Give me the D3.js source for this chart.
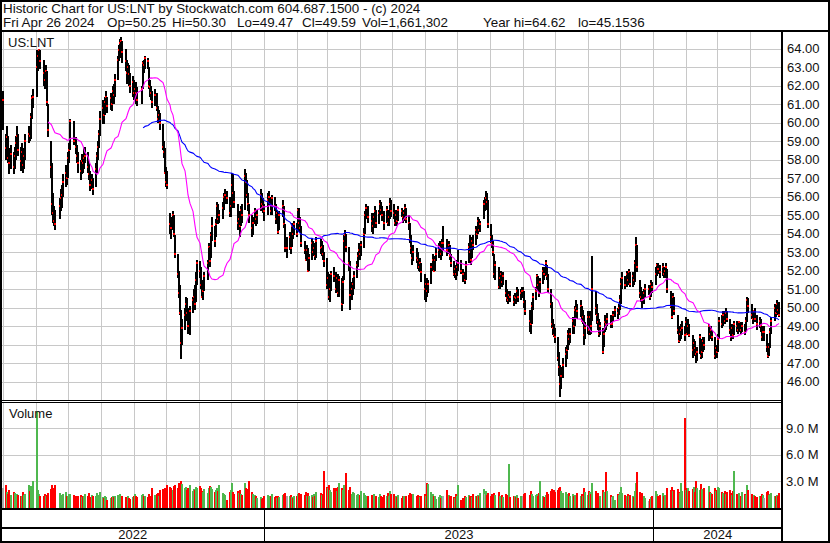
<!DOCTYPE html>
<html><head><meta charset="utf-8">
<script src="https://cdn.jsdelivr.net/npm/d3@7"></script>
<style>
body{margin:0;background:#fff}
svg{display:block}
text{font-family:"Liberation Sans",Arial,sans-serif;fill:#111}
</style>
</head><body>
<svg id="c" width="830" height="543"></svg>
<script>
// ---- data (one line per month, Apr 29 2022 .. Apr 26 2024) ----
const closeP = [
61.2,
58.6,59.2,58.1,57.8,58.3,57.6,58.2,58.9,59.3,58.5,57.9,58.4,57.7,58.2,59.0,59.4,59.3,60.3,61.3,61.4,63.0,
63.6,63.9,63.3,62.7,62.3,62.8,61.1,59.6,57.6,55.6,55.1,54.7,54.5,55.5,55.9,56.1,56.8,57.3,57.0,58.1,58.5,
60.1,59.0,58.7,58.2,57.8,57.4,57.9,57.8,58.1,58.2,57.6,57.2,56.6,56.9,56.4,57.5,58.2,58.7,59.4,60.2,
60.8,60.4,61.1,61.4,60.9,61.3,61.0,61.7,61.5,62.3,63.4,63.9,64.3,64.4,63.8,63.3,62.7,63.0,62.6,62.0,62.2,61.6,61.8,
61.6,61.2,61.8,63.2,63.1,63.5,63.3,62.0,61.9,61.6,61.1,61.5,60.8,60.2,60.4,60.0,58.7,58.4,57.3,56.8,56.6,
54.5,54.3,55.0,54.0,52.9,51.8,50.8,49.7,48.1,48.9,49.6,50.2,49.7,49.0,49.8,50.4,50.6,50.2,51.5,52.4,52.0,
51.2,50.6,50.9,51.7,52.4,53.3,52.5,53.9,54.4,53.6,54.5,55.5,54.8,55.0,55.4,56.0,56.1,55.9,55.1,55.5,56.6,
56.2,55.7,54.6,54.8,54.4,55.3,55.0,57.1,56.8,56.1,55.6,55.0,54.3,54.6,55.2,54.8,55.0,56.1,55.6,55.5,55.2,
55.8,56.0,55.2,55.9,55.5,54.8,55.1,54.1,55.0,55.5,54.5,53.2,53.2,53.8,53.2,54.4,54.0,54.5,54.0,55.3,
54.6,54.3,53.5,53.1,52.6,53.1,52.0,52.7,53.5,53.0,53.2,52.8,53.6,53.2,53.3,52.9,52.5,51.2,51.6,
50.6,51.0,51.8,51.7,51.0,51.6,50.8,51.5,50.2,51.4,53.6,53.9,53.3,52.4,50.7,51.0,51.3,51.7,52.3,52.8,53.1,52.9,53.4,
54.0,55.0,55.4,54.9,54.7,54.4,54.9,55.2,54.6,55.1,55.6,55.3,55.0,54.6,55.3,54.6,54.9,55.6,55.2,
55.1,54.6,55.0,54.7,55.3,55.2,54.9,55.1,55.4,54.8,54.6,53.7,53.2,52.7,53.0,52.7,52.6,52.2,52.4,51.9,51.0,51.3,
50.9,51.3,52.2,52.6,52.0,52.6,52.9,53.1,53.3,52.9,53.5,53.5,53.1,53.4,52.8,52.4,51.8,52.1,51.8,52.2,52.4,
52.0,51.8,51.5,52.3,53.3,53.0,52.6,53.6,53.4,54.2,54.0,54.7,54.2,54.5,55.6,55.6,55.9,55.7,54.5,53.8,
53.5,53.0,51.8,52.3,51.1,51.6,51.8,51.4,51.7,50.8,50.5,50.4,50.7,50.6,50.3,50.6,50.5,50.9,50.6,50.8,50.9,50.9,50.3,
49.8,49.3,49.1,50.1,50.6,50.9,51.7,51.2,50.8,51.4,52.0,51.8,52.4,51.7,51.0,50.2,49.1,48.9,48.5,48.4,
47.3,46.8,45.9,46.3,46.9,47.5,47.7,48.6,48.3,48.6,49.3,49.0,49.9,50.0,49.8,50.1,49.3,49.5,48.5,48.9,49.5,48.8,
49.5,49.0,51.0,50.0,49.6,49.2,48.6,49.0,47.6,48.6,49.2,49.1,49.4,49.1,49.1,49.6,49.9,49.7,50.0,50.4,51.3,
51.6,51.2,51.8,51.5,51.9,51.3,51.7,51.5,52.4,53.4,52.2,50.8,50.6,50.4,50.8,51.0,51.0,50.6,51.3,51.1,
51.8,52.3,52.1,51.9,52.2,51.8,52.0,52.2,51.0,50.1,49.5,50.6,49.8,48.8,48.2,48.6,48.8,48.9,48.5,49.2,48.6,
49.0,48.5,47.7,48.1,47.8,47.5,47.6,48.4,47.4,47.6,48.2,48.0,49.0,48.6,48.8,48.4,47.4,47.8,47.6,48.3,
49.3,49.1,49.6,49.3,49.7,49.4,48.8,48.4,48.9,48.5,49.1,49.0,48.8,49.2,48.8,49.0,48.7,49.3,50.4,50.1,
49.6,49.4,49.8,49.4,49.1,49.3,49.0,48.4,48.7,48.7,47.9,47.4,47.9,48.7,49.3,50.0,49.7,50.2,49.9,49.59
];
const highP = [
61.7,
59.4,59.8,59.3,58.6,58.8,58.4,58.7,59.3,59.8,59.4,58.7,58.9,58.6,58.6,59.4,59.8,59.8,60.5,61.5,61.8,63.9,
63.9,64.0,63.9,63.4,62.9,63.1,62.8,61.0,59.0,57.8,56.2,55.5,55.3,55.9,56.4,56.6,57.2,57.7,57.6,58.4,58.9,
60.2,60.1,59.2,58.8,58.4,58.0,58.3,58.3,58.6,58.7,58.4,57.8,57.4,57.2,57.0,57.8,58.4,59.0,59.6,60.6,
61.2,61.0,61.4,61.7,61.4,61.6,61.5,62.0,62.1,62.6,63.6,64.2,64.5,64.62,64.4,64.0,63.4,63.2,63.1,62.7,62.5,62.3,62.2,
62.2,61.9,62.0,63.3,63.4,63.6,63.5,63.0,62.3,62.0,61.7,61.8,61.6,60.9,60.7,60.5,59.9,59.0,58.6,57.6,57.4,
55.1,54.9,55.2,55.0,53.9,52.9,52.0,51.2,49.9,49.4,50.0,50.6,50.5,50.0,50.1,50.6,51.0,51.2,51.9,52.6,52.5,
52.2,51.5,51.3,51.9,52.6,53.5,53.3,54.1,54.9,54.4,54.8,55.7,55.6,55.3,55.7,56.2,56.4,56.3,56.0,55.8,57.3,
57.2,56.3,55.6,55.2,55.0,55.5,55.6,57.5,57.3,56.9,56.2,55.6,55.0,54.9,55.4,55.3,55.3,56.4,56.2,55.9,55.6,
56.2,56.3,56.0,56.1,56.0,55.6,55.3,55.2,55.2,55.8,55.5,54.5,53.8,54.1,53.9,54.6,54.5,54.7,54.6,55.4,
55.4,54.9,54.4,53.6,53.4,53.4,53.2,52.9,53.7,53.6,53.5,53.4,53.8,53.7,53.6,53.4,53.0,52.7,51.9,
51.8,51.3,52.0,52.2,51.9,51.8,51.8,51.7,51.6,51.7,53.9,54.2,54.0,53.3,52.5,51.4,51.6,52.0,52.5,53.0,53.5,53.4,53.6,
54.3,55.2,55.6,55.5,55.1,54.9,55.1,55.5,55.3,55.3,55.8,55.7,55.5,55.2,55.5,55.3,55.1,55.9,55.8,
55.6,55.2,55.3,55.1,55.5,55.4,55.3,55.3,55.6,55.4,55.0,54.6,53.9,53.3,53.4,53.2,53.0,52.7,52.7,52.4,51.8,51.6,
51.6,51.5,52.4,52.9,52.7,52.8,53.2,53.5,53.6,53.4,53.7,54.4,53.7,53.6,53.4,52.9,52.5,52.3,52.3,52.6,53.1,
52.6,52.1,51.9,52.5,53.5,53.9,53.2,53.8,53.9,54.4,54.4,54.9,54.8,54.7,55.8,56.0,56.3,56.2,55.8,54.5,
53.9,53.6,52.9,52.5,52.2,51.9,52.0,51.9,51.9,51.5,51.0,50.9,50.9,50.9,50.7,50.8,50.8,51.1,51.0,51.0,51.1,51.1,50.9,
50.4,49.9,49.6,50.3,50.8,51.1,51.8,51.7,51.3,51.6,52.2,52.2,52.6,52.3,51.8,51.0,50.3,49.4,49.1,48.9,
48.4,47.6,46.9,46.8,47.3,47.9,48.0,48.8,48.9,48.9,49.5,49.5,50.1,50.4,50.2,50.4,50.1,49.9,49.6,49.2,49.8,49.6,
49.8,49.6,52.8,50.9,50.2,49.7,49.4,49.2,48.9,48.9,49.6,49.5,49.7,49.6,49.4,49.8,50.1,50.0,50.2,50.7,51.6,
51.9,51.7,52.0,51.9,52.1,51.9,51.9,51.9,52.6,53.8,53.4,51.5,51.1,50.9,51.0,51.3,51.2,51.1,51.5,51.4,
52.2,52.4,52.4,52.3,52.4,52.2,52.2,52.4,52.1,50.9,50.3,50.8,50.6,49.6,49.0,48.9,49.1,49.3,49.0,49.5,49.3,
49.4,49.1,48.5,48.3,48.2,47.9,47.9,48.6,48.3,47.9,48.4,48.4,49.1,49.0,49.0,48.8,48.4,48.0,48.0,48.6,
49.5,49.6,49.8,49.8,50.0,49.8,49.4,48.9,49.1,49.1,49.3,49.3,49.1,49.3,49.2,49.2,49.1,49.5,50.6,50.5,
50.2,49.8,49.9,50.0,49.6,49.5,49.4,49.0,48.9,49.0,48.6,48.0,48.1,48.9,49.5,50.2,50.2,50.4,50.3,50.30
];
const lowP = [
59.6,
58.0,58.3,57.8,57.2,57.5,57.2,57.5,58.0,58.6,58.2,57.4,57.7,57.3,57.5,58.0,58.9,59.0,59.1,60.2,60.8,61.4,
62.8,63.0,62.9,62.0,61.8,62.0,60.9,59.2,57.0,55.0,54.6,54.4,54.2,54.8,55.2,55.4,56.0,56.5,56.6,57.0,57.8,
58.5,58.8,58.3,57.8,57.3,56.9,57.2,57.3,57.5,57.8,57.3,56.9,56.3,56.4,56.1,56.5,57.3,58.0,58.6,59.3,
59.9,59.9,60.4,60.7,60.5,60.7,60.6,61.0,61.0,61.4,62.3,63.3,63.5,63.7,63.2,62.8,62.1,62.3,62.0,61.6,61.4,61.2,61.2,
61.0,60.9,61.0,61.8,62.7,62.9,62.9,61.8,61.4,61.2,60.8,60.9,60.6,60.0,60.0,59.6,58.5,58.1,57.2,56.5,56.4,
54.0,53.7,54.2,53.8,52.7,51.6,50.5,49.6,47.25,48.0,48.8,49.3,49.3,48.6,48.5,49.7,49.9,49.9,50.3,51.2,51.6,
51.0,50.5,50.4,50.9,51.5,52.3,52.2,52.7,53.6,53.3,53.8,54.5,54.5,54.6,54.8,55.3,55.6,55.6,54.9,54.9,55.4,
55.8,55.4,54.2,54.2,53.8,54.4,54.6,55.3,56.3,55.9,55.2,54.6,53.8,53.9,54.5,54.4,54.5,55.2,55.3,55.1,54.7,
55.0,55.5,55.0,55.0,55.2,54.5,54.5,54.0,54.2,54.9,54.3,53.0,52.7,53.1,52.9,53.3,53.7,53.9,53.8,54.1,
54.1,54.1,53.3,52.9,52.5,52.5,51.9,52.0,52.6,52.8,52.8,52.6,52.7,52.9,52.8,52.6,52.2,51.0,51.0,
50.4,50.3,50.9,51.4,50.8,50.8,50.6,50.6,49.8,50.2,51.5,53.2,53.0,52.0,49.9,50.4,50.7,51.0,51.6,52.2,52.6,52.6,52.8,
53.2,54.0,54.8,54.6,54.1,54.0,54.3,54.8,54.3,54.5,55.0,55.0,54.7,54.2,54.6,54.4,54.4,54.8,54.9,
54.8,54.4,54.5,54.4,54.7,54.9,54.6,54.7,55.0,54.6,54.2,53.5,52.9,52.3,52.5,52.4,52.1,52.0,51.9,51.4,50.4,50.3,
50.6,50.8,51.3,52.0,51.9,52.0,52.5,52.7,52.9,52.6,52.8,53.1,52.8,52.9,52.6,52.2,51.7,51.6,51.5,51.7,52.0,
51.8,51.4,51.3,51.5,52.4,52.8,52.3,52.7,53.1,53.4,53.7,54.0,54.1,54.1,54.8,55.2,55.3,55.4,54.3,53.5,
53.2,52.8,51.6,51.5,51.0,51.0,51.3,51.1,51.2,50.6,50.3,50.2,50.3,50.3,50.1,50.2,50.2,50.4,50.3,50.4,50.5,50.5,50.0,
49.6,48.7,48.6,49.1,49.9,50.4,50.9,51.0,50.6,50.8,51.3,51.5,51.7,51.5,50.8,50.0,48.9,48.5,48.4,48.1,
47.1,46.3,45.1536,45.6,46.2,46.8,47.2,47.7,48.0,48.1,48.6,48.6,49.0,49.6,49.4,49.5,49.2,49.1,48.0,48.3,48.6,48.5,
48.5,48.6,49.3,49.6,49.1,48.8,48.4,48.5,47.5,47.9,48.7,48.8,49.0,48.9,48.9,49.2,49.5,49.4,49.6,49.9,50.2,
51.0,51.0,51.1,51.2,51.4,51.1,51.1,51.2,51.4,52.2,51.9,50.5,50.3,50.0,50.2,50.6,50.7,50.4,50.6,50.8,
51.2,51.7,51.8,51.6,51.7,51.6,51.6,51.8,50.8,50.0,49.4,49.6,49.6,48.6,48.1,48.2,48.3,48.5,48.2,48.6,48.5,
48.5,48.4,47.3,47.4,47.5,47.0,47.1,47.5,47.2,47.3,47.6,47.7,48.2,48.3,48.4,48.2,47.2,47.3,47.3,47.6,
48.3,48.9,49.0,49.1,49.2,49.2,48.6,48.2,48.3,48.3,48.5,48.7,48.6,48.7,48.6,48.7,48.5,48.7,49.2,49.7,
49.4,49.1,49.2,49.2,48.8,48.9,48.7,48.2,48.3,48.2,47.6,47.3,47.4,47.8,48.6,49.3,49.5,49.7,49.6,49.47
];
const volM = [ // millions of shares
2.2,
2.6,1.8,1.6,2.0,1.5,1.8,1.7,1.4,1.6,1.5,1.3,1.4,1.8,1.5,1.6,2.6,1.9,2.5,2.0,3.0,10.9,
2.0,1.6,1.4,1.3,1.6,1.4,1.5,1.7,2.1,2.6,2.3,1.9,2.6,1.7,1.5,1.4,1.6,1.8,1.3,1.4,1.6,
1.6,1.5,1.3,1.2,1.3,1.5,1.2,1.4,1.3,1.6,1.4,1.7,1.2,1.5,1.3,1.4,1.7,1.3,1.5,1.8,
1.2,1.1,1.3,1.2,0.9,1.1,1.2,1.4,1.2,1.3,1.5,1.4,1.6,1.3,1.4,1.2,1.1,1.3,1.1,1.0,1.2,1.3,1.6,
1.4,1.2,1.5,1.6,1.3,1.4,1.2,1.6,1.4,1.3,2.2,1.5,1.6,1.7,1.4,2.0,2.1,1.9,2.3,2.0,2.6,
2.4,2.3,2.0,2.5,2.6,2.2,2.8,2.5,3.0,2.7,2.2,2.4,2.0,2.3,2.6,1.9,2.1,2.0,2.4,2.2,2.5,
2.2,1.9,1.8,2.1,1.7,2.2,2.5,2.4,2.1,1.8,2.0,2.3,1.9,2.6,1.7,1.6,1.5,0.9,1.8,2.0,2.8,
1.8,1.6,1.9,1.7,2.0,1.6,1.5,2.8,2.2,1.9,2.1,3.0,1.8,1.6,1.5,1.3,1.1,1.2,1.0,1.1,1.3,
1.5,1.3,1.4,1.6,1.2,1.3,1.1,1.4,1.2,1.5,1.6,1.7,1.4,1.3,1.5,1.2,1.1,1.4,1.3,1.6,
1.7,1.4,1.6,1.5,1.8,1.3,1.7,1.4,1.5,1.2,1.6,1.4,1.8,1.7,1.5,1.6,4.2,2.4,2.2,
2.6,2.0,1.8,2.2,2.3,1.9,2.4,2.8,2.2,2.0,2.6,2.1,3.9,2.0,2.4,1.6,1.8,1.7,1.5,1.6,1.4,1.5,1.9,
1.7,1.5,1.4,1.3,1.5,1.2,1.6,1.3,1.4,1.2,1.6,1.3,1.2,1.5,1.4,1.7,1.3,1.9,1.6,
1.6,1.3,1.4,1.2,1.5,1.1,1.3,1.4,1.2,1.3,1.5,1.7,1.6,1.4,1.6,1.3,1.5,1.4,1.2,1.3,1.6,1.4,
2.8,2.7,1.8,1.6,1.3,1.4,1.0,1.2,1.5,1.1,1.4,1.3,2.0,1.5,1.3,1.4,1.2,1.1,1.6,1.3,2.6,
0.9,1.1,1.3,1.2,1.5,1.3,1.4,1.2,1.6,1.4,1.3,1.5,1.4,1.7,2.1,1.6,1.9,1.5,1.7,1.4,
1.6,1.4,1.7,1.5,1.8,1.4,1.3,1.5,1.2,1.6,1.5,1.4,5.0,1.2,1.4,1.3,1.2,1.5,1.1,1.3,1.2,1.3,1.6,
1.7,1.5,1.9,1.6,1.4,1.5,1.6,1.3,1.7,3.0,1.4,1.2,1.5,1.8,1.6,1.9,2.1,1.7,2.0,1.8,
2.0,2.2,2.4,1.9,1.7,1.8,1.6,1.5,1.7,1.4,1.6,1.3,1.5,1.4,1.7,1.3,1.6,1.4,2.2,1.8,1.5,1.9,
1.8,1.6,2.8,1.9,1.5,1.7,1.4,1.3,2.0,1.8,1.6,4.1,1.9,1.5,1.2,1.4,0.9,1.6,1.5,1.8,2.4,
1.7,1.5,1.4,1.6,1.3,1.5,1.4,1.2,1.9,2.8,4.1,1.8,1.6,1.7,1.4,1.1,0.8,1.0,1.2,1.3,
1.9,1.6,1.4,1.5,1.7,1.3,1.5,1.4,2.2,2.0,2.4,1.9,2.0,2.1,1.8,1.7,2.8,1.9,10.2,2.0,2.2,
2.2,1.9,2.1,2.4,1.8,3.0,2.3,2.0,2.7,2.1,1.9,2.2,2.5,1.8,1.7,1.6,2.3,1.9,2.0,2.4,
2.3,1.8,1.7,1.9,1.6,1.8,2.0,1.7,1.5,1.9,4.2,1.6,1.5,1.7,1.4,1.8,1.6,1.5,2.6,2.0,
1.6,1.4,1.5,1.3,1.2,1.4,1.3,1.6,1.5,1.1,1.8,1.9,1.5,1.6,1.7,1.4,1.3,1.5,1.4,1.661
];
const priceTicks = [46,47,48,49,50,51,52,53,54,55,56,57,58,59,60,61,62,63,64];
const volTicks = [3,6,9];
const yearLabels = ["2022","2023","2024"];
const holidays = ["2022-05-30","2022-06-20","2022-07-04","2022-09-05","2022-11-24","2022-12-26",
 "2023-01-02","2023-01-16","2023-02-20","2023-04-07","2023-05-29","2023-06-19","2023-07-04","2023-09-04",
 "2023-11-23","2023-12-25","2024-01-01","2024-01-15","2024-02-19","2024-03-29"];
const header1 = "Historic Chart for US:LNT by Stockwatch.com 604.687.1500 - (c) 2024";
const header2 = [["Fri Apr 26 2024",3],["Op=50.25",107],["Hi=50.30",172],["Lo=49.47",237],["Cl=49.59",302],["Vol=1,661,302",362],["Year hi=64.62",483],["lo=45.1536",578]];

// ---- trading dates, counted back from the last session ----
const fmt = d3.timeFormat("%Y-%m-%d");
const hol = new Set(holidays);
const N = closeP.length;
const dates = [];
{ let d = new Date(2024,3,26,12);
  while (dates.length < N) {
    const wd = d.getDay();
    if (wd !== 0 && wd !== 6 && !hol.has(fmt(d))) dates.unshift(new Date(d));
    d = d3.timeDay.offset(d, -1);
  } }
const rows = dates.map((d,i)=>({d, c:closeP[i], h:highP[i], l:lowP[i], v:volM[i], pc: i? closeP[i-1] : closeP[i]}));

// ---- scales ----
const svg = d3.select("#c");
const x = d3.scaleTime().domain([new Date(2022,3,29,12), new Date(2024,3,26,12)]).range([1.05, 776.9]);
const y = d3.scaleLinear().domain([46,64]).range([381.7,48.5]);
const yv = d3.scaleLinear().domain([0,9]).range([508,428.2]);
const bx = d => Math.round(x(d)) + 1;

const grid = "#c8c8c8";
svg.append("rect").attr("width",830).attr("height",543).attr("fill","#fff");

svg.append("clipPath").attr("id","pc").append("rect").attr("x",2).attr("y",32).attr("width",779).attr("height",368);
svg.append("clipPath").attr("id","vc").append("rect").attr("x",2).attr("y",403).attr("width",779).attr("height",105);

// gridlines
const months = d3.timeMonth.range(new Date(2022,4,1), new Date(2024,4,1));
const g = svg.append("g").attr("shape-rendering","crispEdges").attr("stroke",grid).attr("stroke-width",1);
priceTicks.forEach(t=>{ const yy=Math.round(y(t))+0.5; g.append("line").attr("x1",2).attr("x2",781).attr("y1",yy).attr("y2",yy); });
volTicks.forEach(t=>{ const yy=Math.round(yv(t))+0.5; g.append("line").attr("x1",2).attr("x2",781).attr("y1",yy).attr("y2",yy); });
months.forEach(m=>{ const xx=Math.round(x(m))+0.5;
  g.append("line").attr("x1",xx).attr("x2",xx).attr("y1",32).attr("y2",400);
  g.append("line").attr("x1",xx).attr("x2",xx).attr("y1",403).attr("y2",508); });

// price bars: each session draws its high-low bar then its red close mark
const pg = svg.append("g").attr("clip-path","url(#pc)").attr("shape-rendering","crispEdges");
const sess = pg.selectAll("g.s").data(rows).join("g").attr("class","s");
sess.append("rect")
  .attr("x",r=>bx(r.d)).attr("width",2)
  .attr("y",r=>Math.round(y(Math.max(r.h,r.c))))
  .attr("height",r=>Math.max(1,Math.round(y(Math.min(r.l,r.c)))-Math.round(y(Math.max(r.h,r.c)))))
  .attr("fill","#000");
sess.append("rect")
  .attr("x",r=>bx(r.d)).attr("width",2)
  .attr("y",r=>Math.round(y(r.c))-1).attr("height",2).attr("fill","#ff0000");

// moving averages
function sma(n){ const out=[]; for(let i=n-1;i<N;i++){ out.push({d:dates[i], v:d3.mean(closeP.slice(i-n+1,i+1))}); } return out; }
const line = d3.line().x(p=>bx(p.d)+1).y(p=>y(p.v));
pg.append("path").datum(sma(90)).attr("d",line).attr("fill","none").attr("stroke","#0000ff").attr("stroke-width",1.1).attr("shape-rendering","auto");
pg.append("path").datum(sma(30)).attr("d",line).attr("fill","none").attr("stroke","#ff00ff").attr("stroke-width",1.1).attr("shape-rendering","auto");

// volume bars
const vg = svg.append("g").attr("clip-path","url(#vc)").attr("shape-rendering","crispEdges");
vg.selectAll("rect").data(rows).join("rect")
  .attr("x",r=>bx(r.d)).attr("width",2)
  .attr("y",r=>Math.round(yv(r.v))).attr("height",r=>508-Math.round(yv(r.v)))
  .attr("fill",r=> r.c>r.pc ? "#4fb84f" : (r.c<r.pc ? "#ff0000" : "#a9a9a9"));

// frame
const f = svg.append("g").attr("shape-rendering","crispEdges").attr("stroke","#000").attr("fill","none");
f.append("rect").attr("x",1).attr("y",0.5).attr("width",828).attr("height",541.5).attr("stroke-width",2);
f.append("line").attr("x1",0).attr("x2",830).attr("y1",31).attr("y2",31).attr("stroke-width",2);
f.append("line").attr("x1",0).attr("x2",782).attr("y1",400.5).attr("y2",400.5);
f.append("line").attr("x1",0).attr("x2",782).attr("y1",402.5).attr("y2",402.5);
f.append("line").attr("x1",0).attr("x2",782).attr("y1",509).attr("y2",509).attr("stroke-width",2);
f.append("line").attr("x1",0).attr("x2",782).attr("y1",527.5).attr("y2",527.5).attr("stroke-width",2);
f.append("line").attr("x1",782).attr("x2",782).attr("y1",31).attr("y2",543).attr("stroke-width",2);
const yb = [new Date(2023,0,1), new Date(2024,0,1)].map(d=>Math.round(x(d))+0.5);
yb.forEach(xx=> f.append("line").attr("x1",xx).attr("x2",xx).attr("y1",509).attr("y2",542).attr("stroke-width",1.5));

// axis labels
const T = svg.append("g").attr("font-size",13);
priceTicks.forEach(t=> T.append("text").attr("x",787).attr("y",y(t)+4.5).text(d3.format(".2f")(t)));
volTicks.forEach(t=> T.append("text").attr("x",786).attr("y",yv(t)+4.5).text(d3.format(".1f")(t)+" M"));
const segs = [1.05, yb[0], yb[1], 782];
yearLabels.forEach((s,i)=> T.append("text").attr("x",(segs[i]+segs[i+1])/2).attr("y",539).attr("text-anchor","middle").text(s));
T.append("text").attr("x",8).attr("y",47).text("US:LNT");
T.append("text").attr("x",9).attr("y",418).text("Volume");

// header
const H = svg.append("g").attr("font-size",13.4);
H.append("text").attr("x",3).attr("y",13).text(header1);
header2.forEach(([s,xx])=> H.append("text").attr("x",xx).attr("y",27).text(s));
</script>
</body></html>
